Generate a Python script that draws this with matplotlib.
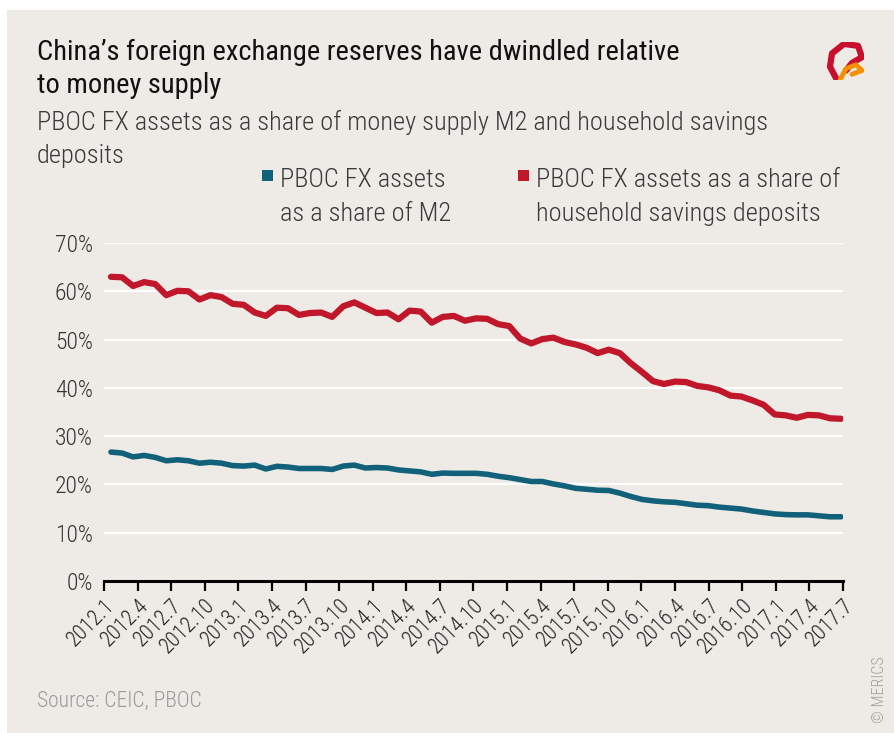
import numpy as np
import matplotlib
matplotlib.use("Agg")
import matplotlib.pyplot as plt
import matplotlib.patches as mpatches
from matplotlib import font_manager

installed = {f.name for f in font_manager.fontManager.ttflist}
FONT = next((f for f in ["Roboto Condensed", "Liberation Sans Narrow", "Roboto"] if f in installed),
            "DejaVu Sans")
plt.rcParams["font.family"] = [FONT, "DejaVu Sans"]

# ── data ───────────────────────────────────────────────────
months = [f"{y}.{m}" for y in range(2012, 2018) for m in range(1, 13)][:67]

share_m2 = [26.7, 26.5, 25.7, 26.0, 25.6, 24.9, 25.1, 24.9, 24.4, 24.6,
            24.4, 23.9, 23.8, 24.0, 23.2, 23.75, 23.6, 23.3, 23.3, 23.3,
            23.1, 23.8, 24.0, 23.4, 23.5, 23.4, 23.0, 22.8, 22.6, 22.1,
            22.35, 22.3, 22.3, 22.3, 22.1, 21.7, 21.4, 21.0, 20.6, 20.6,
            20.1, 19.7, 19.2, 19.0, 18.8, 18.75, 18.2, 17.5, 16.9, 16.6,
            16.4, 16.3, 16.0, 15.7, 15.6, 15.3, 15.1, 14.9, 14.5, 14.2,
            13.9, 13.75, 13.7, 13.7, 13.5, 13.3, 13.3]

share_savings = [63.0, 62.9, 61.1, 61.9, 61.5, 59.2, 60.1, 60.0, 58.3, 59.2,
                 58.8, 57.4, 57.2, 55.6, 54.9, 56.6, 56.5, 55.1, 55.5, 55.6,
                 54.7, 56.9, 57.7, 56.6, 55.5, 55.6, 54.2, 56.0, 55.8, 53.5,
                 54.7, 54.9, 53.9, 54.4, 54.3, 53.2, 52.8, 50.2, 49.2, 50.1,
                 50.4, 49.5, 49.0, 48.3, 47.2, 47.9, 47.2, 45.1, 43.3, 41.4,
                 40.8, 41.3, 41.2, 40.4, 40.1, 39.5, 38.4, 38.2, 37.4, 36.5,
                 34.5, 34.3, 33.8, 34.4, 34.3, 33.7, 33.6]

tick_labels = months[::3]
y_ticks = [0, 10, 20, 30, 40, 50, 60, 70]

BLUE = "#12617A"
RED = "#C1172B"
BG = "#EEEAE6"
W, H = 894, 733


def fx(px):
    return px / W


def fy(py):
    return 1 - py / H


fig = plt.figure(figsize=(8.94, 7.33), dpi=100, facecolor=BG)
# white margin on top and left
fig.patches.append(mpatches.Rectangle((0, fy(10)), 1, 10 / H, transform=fig.transFigure,
                                      facecolor="white", edgecolor="none", zorder=-5))
fig.patches.append(mpatches.Rectangle((0, 0), fx(7), 1, transform=fig.transFigure,
                                      facecolor="white", edgecolor="none", zorder=-5))

ax = fig.add_axes([fx(104), fy(581), 739 / W, 338 / H])
ax.set_facecolor(BG)

x = np.arange(len(months))
ax.plot(x, share_savings, color=RED, lw=4.5, solid_capstyle="round",
        solid_joinstyle="round", zorder=3)
ax.plot(x, share_m2, color=BLUE, lw=4.0, solid_capstyle="round",
        solid_joinstyle="round", zorder=3)

x0, x1 = -0.63, 66.18
ax.set_xlim(x0, x1)
ax.set_ylim(0, 70)
ax.set_yticks(y_ticks)
ax.set_yticklabels([f"{v}%" for v in y_ticks], fontsize=17, color="#333333",
                   fontweight="light")
ax.yaxis.grid(True, color="white", lw=1.6)
ax.set_axisbelow(True)
ax.tick_params(axis="y", length=0, pad=8)

ax.set_xticks(np.linspace(x0, x1, len(tick_labels)))
ax.set_xticklabels(tick_labels, rotation=45, ha="right", rotation_mode="anchor",
                   fontsize=15.5, color="#222222", fontweight="light")
ax.tick_params(axis="x", direction="out", length=7, width=1.6, color="black", pad=3)

for s in ["top", "right", "left"]:
    ax.spines[s].set_visible(False)
ax.spines["bottom"].set_linewidth(2.2)
ax.spines["bottom"].set_color("black")

# ── texts ──────────────────────────────────────────────────
title_lines = ["China’s foreign exchange reserves have dwindled relative", "to money supply"]
for txt, py in zip(title_lines, [60, 93]):
    fig.text(fx(37), fy(py), txt, fontsize=20.5, color="#111111", va="baseline")

sub_lines = ["PBOC FX assets as a share of money supply M2 and household savings", "deposits"]
for txt, py in zip(sub_lines, [130, 163]):
    fig.text(fx(37), fy(py), txt, fontsize=19, color="#3a3a3a", va="baseline",
             fontweight="light")

fig.patches.append(mpatches.Rectangle((fx(262), fy(181)), 11 / W, 11 / H,
                                      transform=fig.transFigure, facecolor=BLUE,
                                      edgecolor="none"))
fig.patches.append(mpatches.Rectangle((fx(518), fy(181)), 11 / W, 11 / H,
                                      transform=fig.transFigure, facecolor=RED,
                                      edgecolor="none"))
legend_lines = [("PBOC FX assets", 280, 187), ("as a share of M2", 280, 221),
                ("PBOC FX assets as a share of", 536, 187),
                ("household savings deposits", 536, 221)]
for txt, px, py in legend_lines:
    fig.text(fx(px), fy(py), txt, fontsize=19, color="#3a3a3a", va="baseline",
             fontweight="light")

fig.text(fx(37), fy(707), "Source: CEIC, PBOC", fontsize=15.5, color="#9a9a9a",
         va="baseline", fontweight="light")
fig.text(fx(880), fy(690), "© MERICS", fontsize=11.5, color="#a0a0a0",
         rotation=90, ha="center", va="center", fontweight="light")

# small logo mark top right
lx = fig.add_axes([fx(824), fy(80), 40 / W, 38 / H])
lx.axis("off")
lx.set_xlim(0, 1)
lx.set_ylim(0, 1)
lx.plot([0.3, 0.15, 0.2, 0.5, 0.85, 0.95, 0.7, 0.55],
        [0.05, 0.35, 0.7, 0.95, 0.9, 0.6, 0.45, 0.25],
        color="#C8102E", lw=4.5, solid_capstyle="round", solid_joinstyle="round")
lx.plot([0.4, 0.55, 0.8, 0.95, 0.7], [0.0, 0.3, 0.4, 0.25, 0.15], color="#F39200", lw=3.5,
        solid_capstyle="round", solid_joinstyle="round")

fig.savefig("out.png", dpi=100, facecolor=fig.get_facecolor())
